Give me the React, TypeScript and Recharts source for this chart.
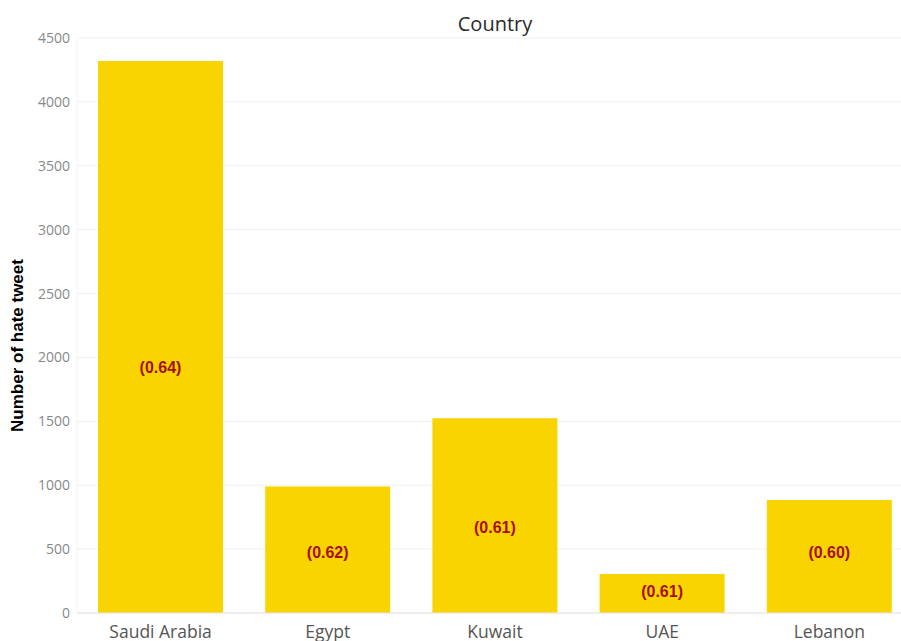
import { BarChart, Bar, XAxis, YAxis, CartesianGrid, LabelList, Label } from "recharts";

const countries = ["Saudi Arabia", "Egypt", "Kuwait", "UAE", "Lebanon"];
const hateTweets = [4320, 990, 1525, 305, 885];
const scores = ["(0.64)", "(0.62)", "(0.61)", "(0.61)", "(0.60)"];
// value (in tweets) at which each score label sits inside its bar
const labelAt = [1920, 477, 673, 172, 477];
const yTicks = [0, 500, 1000, 1500, 2000, 2500, 3000, 3500, 4000, 4500];

const data = countries.map((country, i) => ({
  country,
  tweets: hateTweets[i],
  score: scores[i],
  labelAt: labelAt[i],
}));

function ScoreLabel(props: any) {
  const { x, y, width, height, index } = props;
  const row = data[index];
  const perUnit = height / row.tweets;
  const cy = y + height - row.labelAt * perUnit;
  return (
    <text
      x={x + width / 2}
      y={cy}
      textAnchor="middle"
      dominantBaseline="central"
      fill="#a50f0f"
      fontFamily="Liberation Sans, Arial, sans-serif"
      fontWeight="bold"
      fontSize={16}
    >
      {row.score}
    </text>
  );
}

function YTitle(props: any) {
  const { viewBox } = props;
  const cx = 17;
  const cy = viewBox.y + viewBox.height / 2 + 20;
  return (
    <text
      x={cx}
      y={cy}
      transform={`rotate(-90 ${cx} ${cy})`}
      textAnchor="middle"
      dominantBaseline="central"
      fill="#000"
      fontWeight="bold"
      fontSize={17}
      fontFamily="Liberation Sans, Arial, sans-serif"
    >
      Number of hate tweet
    </text>
  );
}

export default function App() {
  return (
    <div
      style={{
        position: "absolute",
        left: 0,
        top: 0,
        width: 901,
        height: 641,
        overflow: "hidden",
        background: "#fff",
      }}
    >
      <div
        style={{
          position: "absolute",
          left: 0,
          width: 990,
          top: 11,
          textAlign: "center",
          fontFamily: "Open Sans, sans-serif",
          fontSize: 20,
          color: "#2a2a2a",
          lineHeight: "26px",
        }}
      >
        Country
      </div>
      <BarChart
        width={918}
        height={641}
        data={data}
        margin={{ top: 38, right: 5, bottom: 0, left: 0 }}
        barCategoryGap={21}
      >
        <CartesianGrid vertical={false} stroke="#efefef" />
        <XAxis
          dataKey="country"
          height={28}
          tickLine={false}
          axisLine={{ stroke: "#e6e6e6" }}
          tick={{ fill: "#555", fontSize: 17.5, fontFamily: "Open Sans, sans-serif", dy: 5 }}
          interval={0}
        />
        <YAxis
          width={77}
          domain={[0, 4500]}
          ticks={yTicks}
          tickLine={false}
          axisLine={{ stroke: "#f2f2f2" }}
          tick={{ fill: "#888", fontSize: 14, fontFamily: "Open Sans, sans-serif" }}
          tickMargin={1}
        >
          <Label content={<YTitle />} />
        </YAxis>
        <Bar dataKey="tweets" fill="#fad400" isAnimationActive={false}>
          <LabelList dataKey="score" content={<ScoreLabel />} />
        </Bar>
      </BarChart>
    </div>
  );
}
